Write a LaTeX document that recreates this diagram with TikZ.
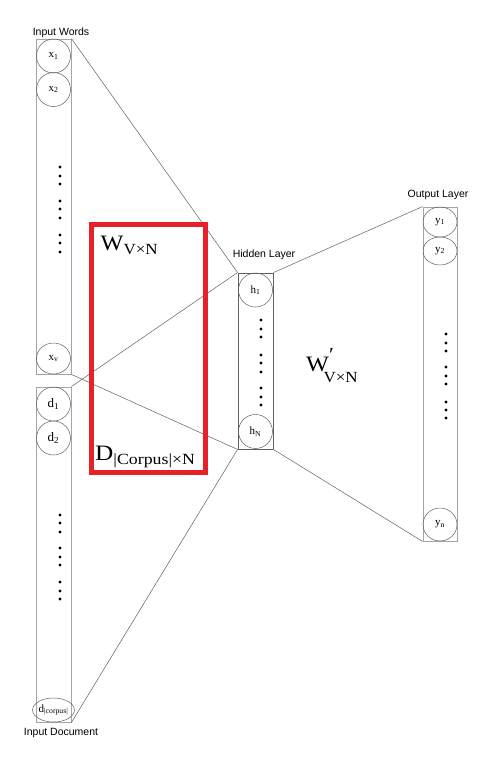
\documentclass[tikz,border=0pt]{standalone}
\usepackage{fontspec}
\setmainfont{Liberation Serif}
\setsansfont{Liberation Sans}
\usetikzlibrary{positioning, shapes.geometric}
\definecolor{nnred}{RGB}{232,32,42}
\definecolor{nnframe}{RGB}{165,165,165}
\definecolor{nnline}{RGB}{95,95,95}
\newcommand{\matsub}[2]{\raisebox{#1}{\fontsize{15.5}{15.5}\selectfont #2}}
\tikzset{
    layerbox/.style={rectangle, draw=nnframe, line width=0.9pt, minimum width=35pt, inner sep=0pt},
    neuron/.style={ellipse, draw=nnline, line width=0.5pt, minimum width=34pt, minimum height=#1, inner sep=0pt, font=\fontsize{11}{11}\selectfont},
    neuron/.default=34pt,
    link/.style={draw=nnline, line width=0.5pt},
    layerlab/.style={anchor=base, inner sep=0pt, font=\sffamily\fontsize{10.5}{12}\selectfont},
    matlab/.style={anchor=base west, inner sep=0pt, font=\fontsize{22}{22}\selectfont},
    dotdot/.style={fill=black}
}

\begin{document}
\begin{tikzpicture}[x=1pt, y=-1pt]
    \useasboundingbox (0,0) rectangle (487,761);
    % layer columns
    \node[layerbox, minimum height=335pt] (words) at (53.5, 206.5) {};
    \node[layerbox, minimum height=335pt] (doc) at (53.5, 554.5) {};
    \node[layerbox, draw=nnline, minimum height=176pt] (hidden) at (255.5, 361) {};
    \node[layerbox, minimum height=334pt, minimum width=34pt] (output) at (440, 374) {};
    % units
    \node[neuron] (x1) at (53.5, 56) {x\textsubscript{1}};
    \node[neuron] (x2) at (53.5, 89.5) {x\textsubscript{2}};
    \node[neuron=31pt] (xv) at (53.5, 358.5) {x\textsubscript{v}};
    \node[neuron, font=\fontsize{13}{13}\selectfont] (d1) at (53.5, 404) {d\textsubscript{1}};
    \node[neuron, font=\fontsize{13}{13}\selectfont] (d2) at (53.5, 438) {d\textsubscript{2}};
    \node[neuron=24pt] (dc) at (53.5, 710) {d\textsubscript{|corpus|}};
    \node[neuron] (h1) at (255.5, 290) {h\textsubscript{1}};
    \node[neuron] (hN) at (255.5, 431.5) {h\textsubscript{N}};
    \node[neuron=30pt] (y1) at (440, 222) {y\textsubscript{1}};
    \node[neuron=28pt] (y2) at (440, 251) {y\textsubscript{2}};
    \node[neuron=33pt] (yn) at (440, 524.5) {y\textsubscript{n}};
    % dots
    \foreach \y in {167,176,184,201,209,218,235,243,252} \fill[dotdot] (60,\y) circle (1.6pt);
    \foreach \y in {515,523,532,548,557,565,582,591,599} \fill[dotdot] (60,\y) circle (1.6pt);
    \foreach \y in {320,329,337,355,363,372,388,397,405} \fill[dotdot] (261,\y) circle (1.6pt);
    \foreach \y in {334,343,351,367,376,384,402,410,418} \fill[dotdot] (446,\y) circle (1.6pt);
    % labels
    \node[layerlab] (lwords) at (61, 35) {Input Words};
    \node[layerlab] (ldoc) at (61, 735.5) {Input Document};
    \node[layerlab] (lhidden) at (264, 257) {Hidden Layer};
    \node[layerlab] (loutput) at (438, 197) {Output Layer};
    % connections
    \draw[link] (words.north east) -- (hidden.north west);
    \draw[link] (words.south east) -- (hidden.south west);
    \draw[link] (doc.north east) -- (hidden.north west);
    \draw[link] (doc.south east) -- (hidden.south west);
    \draw[link] (hidden.north east) -- (output.north west);
    \draw[link] (hidden.south east) -- (output.south west);
    % weight matrices
    \node[draw=nnred, line width=5pt, minimum width=114pt, minimum height=248pt, inner sep=0pt] (wmat) at (148.5, 348.5) {};
    \node[matlab] (wlab) at (100.5, 250) {\scalebox{1.1}[1]{W\matsub{-4pt}{V×N}}};
    \node[matlab] (dlab) at (95, 460) {\scalebox{1.15}[1]{D\matsub{-4pt}{|Corpus|×N}}};
    \node[matlab] (wplab) at (306, 371) {\scalebox{1.1}[1]{W\rlap{\raisebox{10pt}{\fontsize{20}{20}\selectfont ′}}\kern-5pt\matsub{-11pt}{V×N}}};
\end{tikzpicture}
\end{document}
